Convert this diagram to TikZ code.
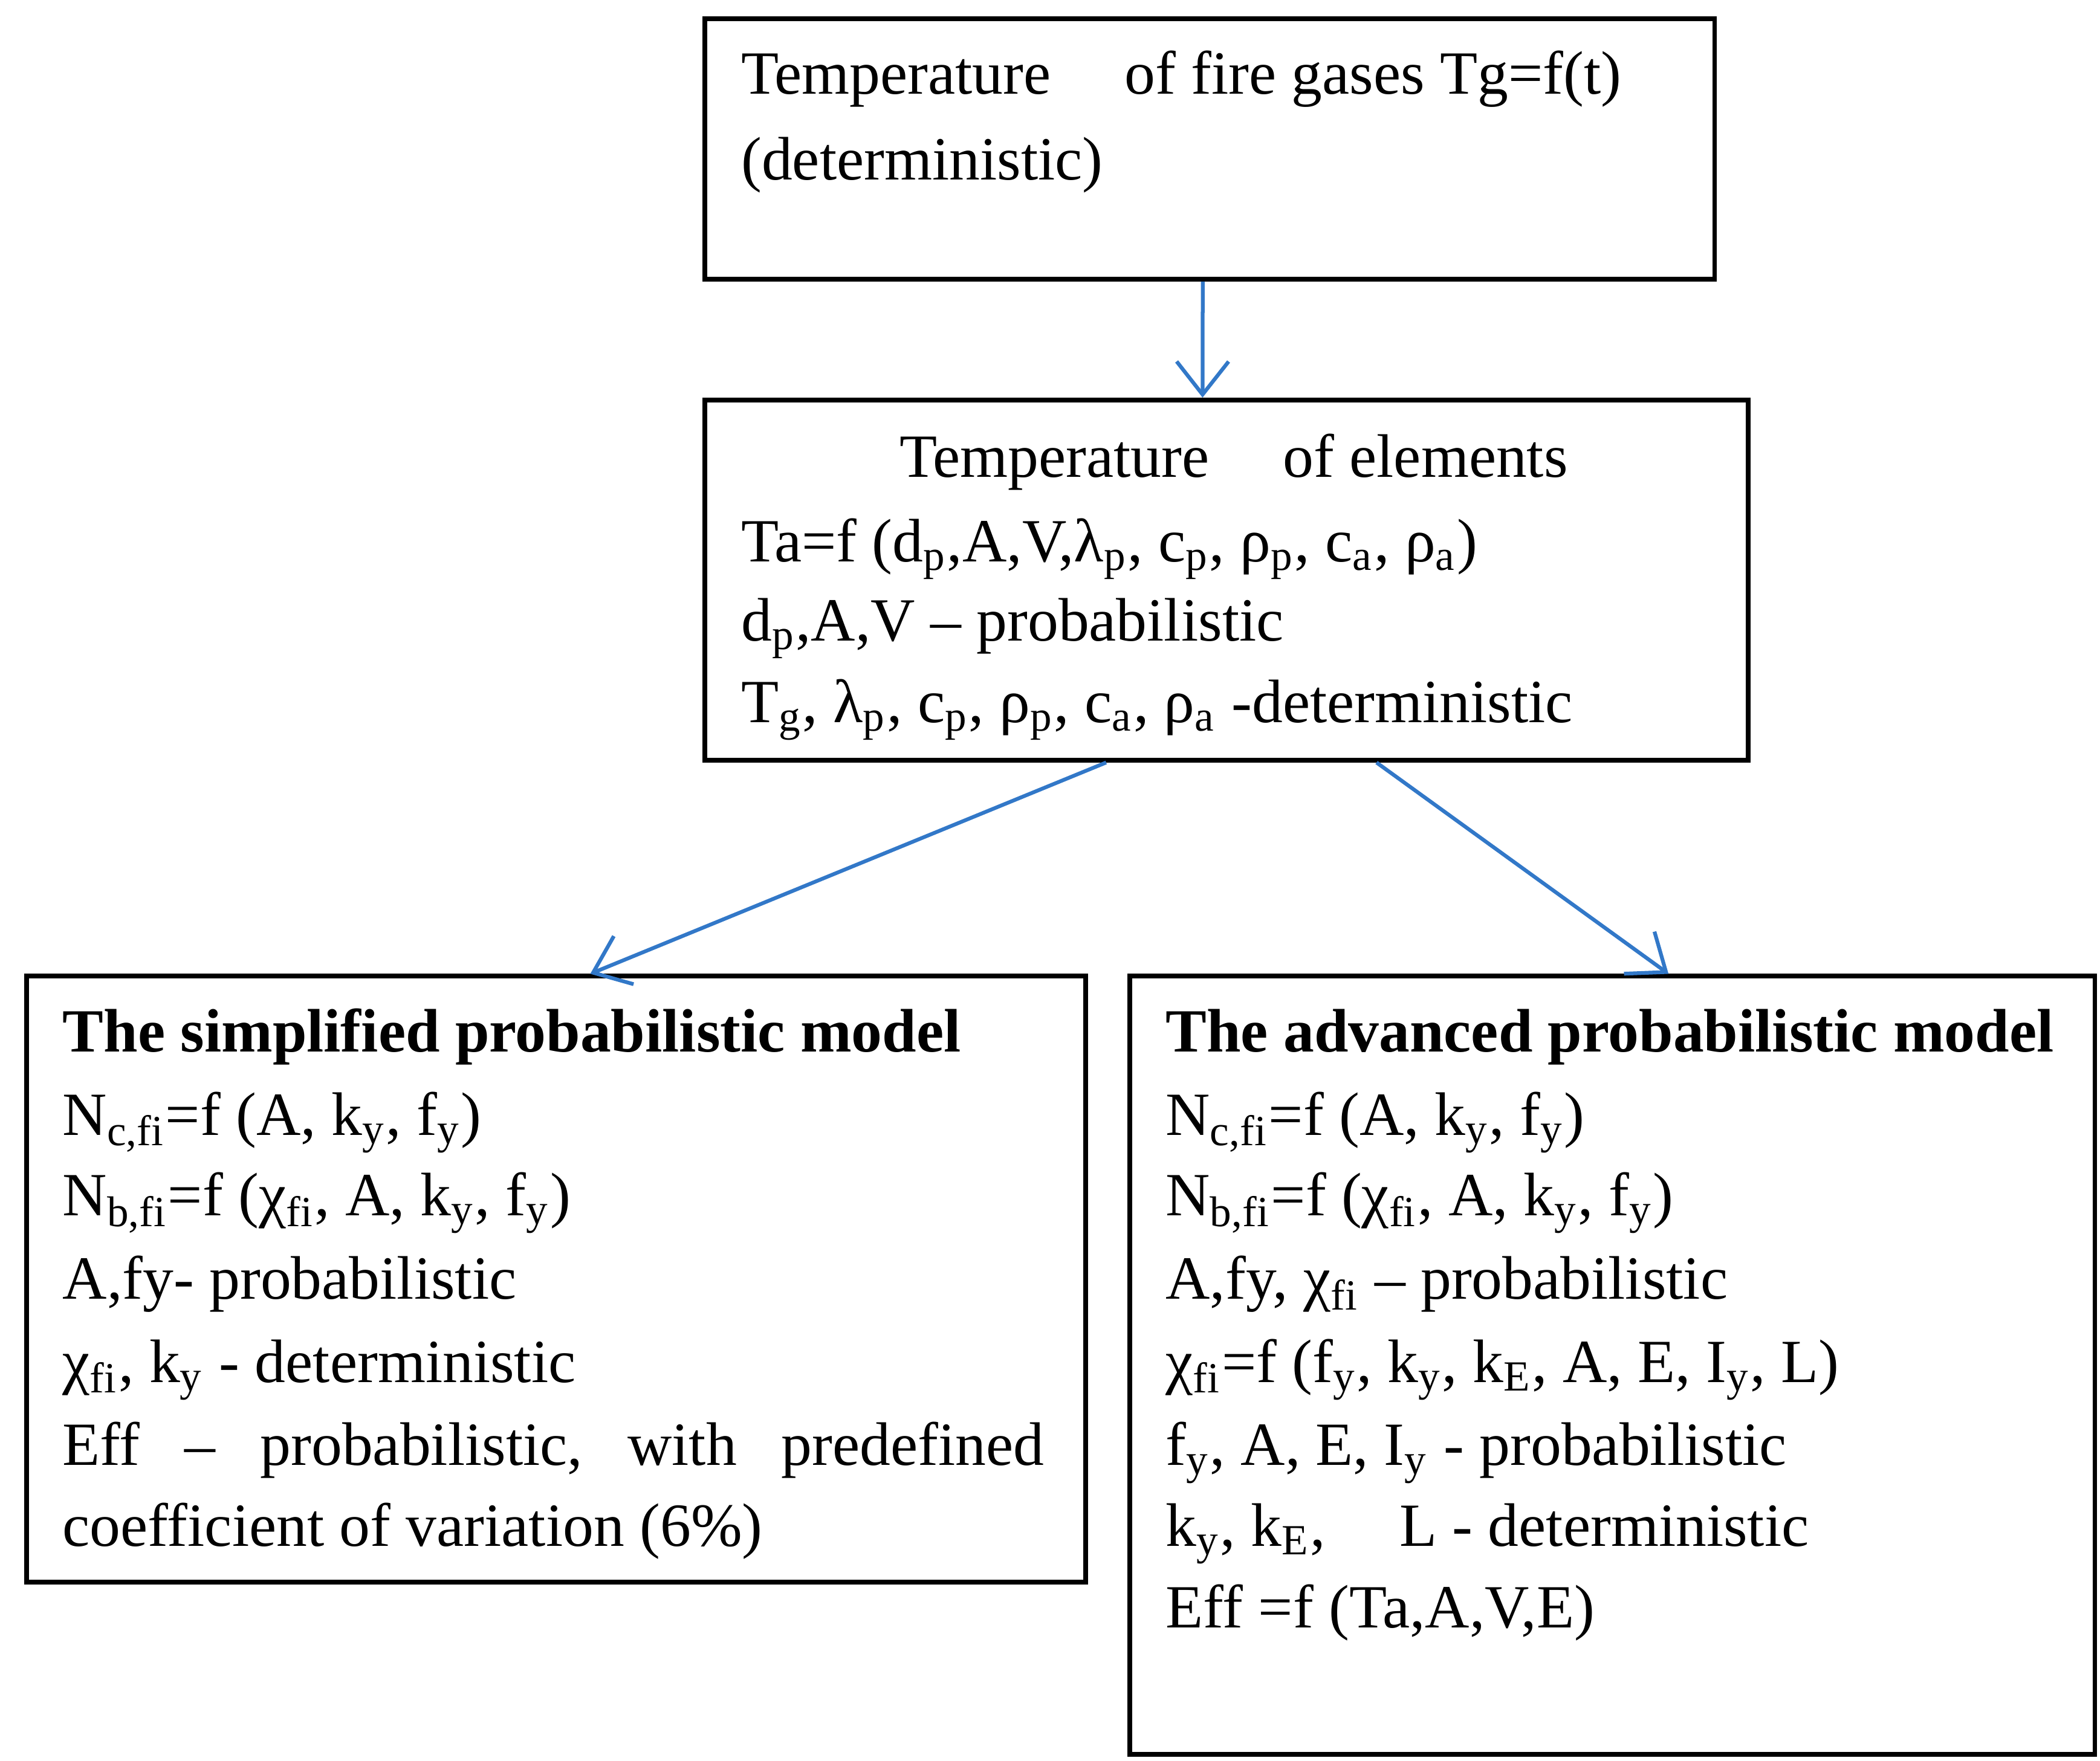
\documentclass[tikz,border=0pt]{standalone}
\usepackage{fontspec}
\setmainfont{Liberation Serif}
\usetikzlibrary{calc,arrows.meta}
\tikzset{
  box/.style={rectangle, draw=black, line width=1pt, anchor=north west, inner sep=0pt},
  line/.style={anchor=base west, inner sep=0pt, font=\fontsize{13}{16}\selectfont},
  arrow/.style={draw={rgb,255:red,50;green,120;blue,200}, line width=0.8pt, -{Straight Barb[length=7pt,width=11pt]}}
}
\newcommand{\sub}[1]{\textsubscript{#1}}
\begin{document}
\begin{tikzpicture}[x=0.01cm,y=-0.01cm]
\useasboundingbox (0,0) rectangle (1563,1311);
% boxes
\node (box1) [box, minimum width=7.51cm, minimum height=1.94cm] at (523,12) {};
\node (box2) [box, minimum width=7.76cm, minimum height=2.68cm] at (523,296) {};
\node (box3) [box, minimum width=7.88cm, minimum height=4.51cm] at (18,725) {};
\node (box4) [box, minimum width=7.18cm, minimum height=5.79cm] at (839,725) {};
% top box
\node (t1) [line] at (551,70) {Temperature\hspace{1.2em}of fire gases Tg=f(t)};
\node (t2) [line] at (551,134) {(deterministic)};
% middle box
\node (m1) [line] at (669,355) {Temperature\hspace{1.2em}of elements};
\node (m2) [line] at (551,418) {Ta=f (d\sub{p},A,V,λ\sub{p}, c\sub{p}, ρ\sub{p}, c\sub{a}, ρ\sub{a})};
\node (m3) [line] at (551,477) {d\sub{p},A,V -- probabilistic};
\node (m4) [line] at (551,538) {T\sub{g}, λ\sub{p}, c\sub{p}, ρ\sub{p}, c\sub{a}, ρ\sub{a} -deterministic};
% simplified model
\node (s1) [line] at (46,783) {\textbf{The simplified probabilistic model}};
\node (s2) [line] at (46,845) {N\sub{c,fi}=f (A, k\sub{y}, f\sub{y})};
\node (s3) [line] at (46,905) {N\sub{b,fi}=f (χ\sub{fi}, A, k\sub{y}, f\sub{y})};
\node (s4) [line] at (46,967) {A,fy- probabilistic};
\node (s5) [line] at (46,1029) {χ\sub{fi}, k\sub{y} - deterministic};
\node (s6) [line] at (46,1091) {\hbox to 7.3cm{Eff\hfill--\hfill probabilistic,\hfill with\hfill predefined}};
\node (s7) [line] at (46,1151) {coefficient of variation (6\%)};
% advanced model
\node (a1) [line] at (867,783) {\textbf{The advanced probabilistic model}};
\node (a2) [line] at (867,845) {N\sub{c,fi}=f (A, k\sub{y}, f\sub{y})};
\node (a3) [line] at (867,905) {N\sub{b,fi}=f (χ\sub{fi}, A, k\sub{y}, f\sub{y})};
\node (a4) [line] at (867,967) {A,fy, χ\sub{fi} -- probabilistic};
\node (a5) [line] at (867,1029) {χ\sub{fi}=f (f\sub{y}, k\sub{y}, k\sub{E}, A, E, I\sub{y}, L)};
\node (a6) [line] at (867,1091) {f\sub{y}, A, E, I\sub{y} - probabilistic};
\node (a7) [line] at (867,1151) {k\sub{y}, k\sub{E},\hspace{1.2em}L - deterministic};
\node (a8) [line] at (867,1212) {Eff =f (Ta,A,V,E)};
% arrows
\draw [arrow] ($(box1.south west)!0.493!(box1.south east)$) -- ($(box2.north west)!0.477!(box2.north east)$);
\draw [arrow] ($(box2.south west)!0.385!(box2.south east)$) -- ($(box3.north west)!0.532!(box3.north east)$);
\draw [arrow] ($(box2.south west)!0.643!(box2.south east)$) -- ($(box4.north west)!0.558!(box4.north east)$);
\end{tikzpicture}
\end{document}
